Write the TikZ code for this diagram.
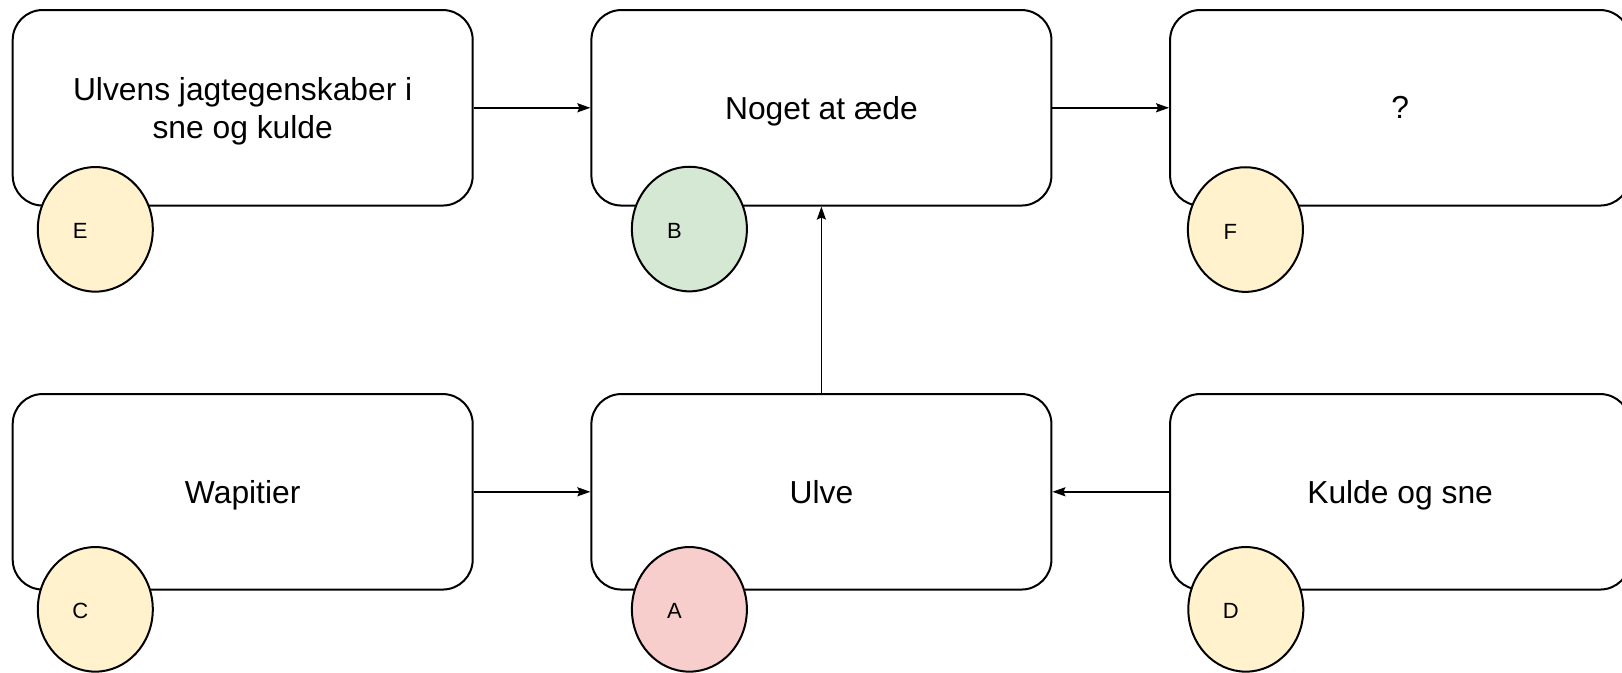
\documentclass[tikz,border=0pt]{standalone}
\usepackage{fontspec}
\setmainfont{Liberation Sans}
\usetikzlibrary{arrows.meta,positioning,shapes.geometric}
\definecolor{tagyellow}{HTML}{FFF2CC}
\definecolor{taggreen}{HTML}{D5E8D4}
\definecolor{tagred}{HTML}{F8CECC}
\tikzstyle{fbox} = [rectangle, draw, line width=1pt, rounded corners=15pt,
    minimum width=230pt, minimum height=97.75pt, align=center, text depth=0pt,
    font=\fontsize{15.9pt}{19pt}\selectfont]
\tikzstyle{tag} = [ellipse, draw, line width=1pt, minimum width=57.5pt,
    minimum height=62.3pt, inner sep=0pt]
\tikzstyle{tagtext} = [font=\fontsize{11pt}{13pt}\selectfont, xshift=-7.5pt, yshift=-1pt]

\begin{document}
\begin{tikzpicture}[->,>={Stealth[length=6.5pt,width=4.5pt,inset=1pt]},line width=0.9pt,
                    node distance=192pt and 289.35pt,on grid]
  \useasboundingbox (0,0) rectangle (811pt,-336.5pt);
  \node[fbox] (jagt) at (121.35pt,-53.9pt) {Ulvens jagtegenskaber i\\sne og kulde};
  \node[fbox] (aede) [right=of jagt] {Noget at æde};
  \node[fbox] (ukendt) [right=of aede] {?};
  \node[fbox] (wapiti) [below=of jagt] {Wapitier};
  \node[fbox] (ulve) [below=of aede] {Ulve};
  \node[fbox] (kulde) [below=of ukendt] {Kulde og sne};

  % letters on the boxes
  \node[tag, fill=tagyellow, label={[tagtext]center:E}] (e) at ([shift={(41.8pt,-11.4pt)}]jagt.south west) {};
  \node[tag, fill=taggreen, label={[tagtext]center:B}] (b) at ([shift={(49.5pt,-11.25pt)}]aede.south west) {};
  \node[tag, fill=tagyellow, label={[tagtext]center:F}] (f) at ([shift={(38.15pt,-11.5pt)}]ukendt.south west) {};
  \node[tag, fill=tagyellow, label={[tagtext]center:C}] (c) at ([shift={(41.8pt,-9.4pt)}]wapiti.south west) {};
  \node[tag, fill=tagred, label={[tagtext]center:A}] (a) at ([shift={(49.5pt,-9.4pt)}]ulve.south west) {};
  \node[tag, fill=tagyellow, label={[tagtext]center:D}] (d) at ([shift={(38.35pt,-9.4pt)}]kulde.south west) {};

  \path (jagt) edge (aede)
  (aede) edge (ukendt)
  (wapiti) edge (ulve)
  (kulde) edge (ulve)
  (ulve) edge (aede);
\end{tikzpicture}
\end{document}
